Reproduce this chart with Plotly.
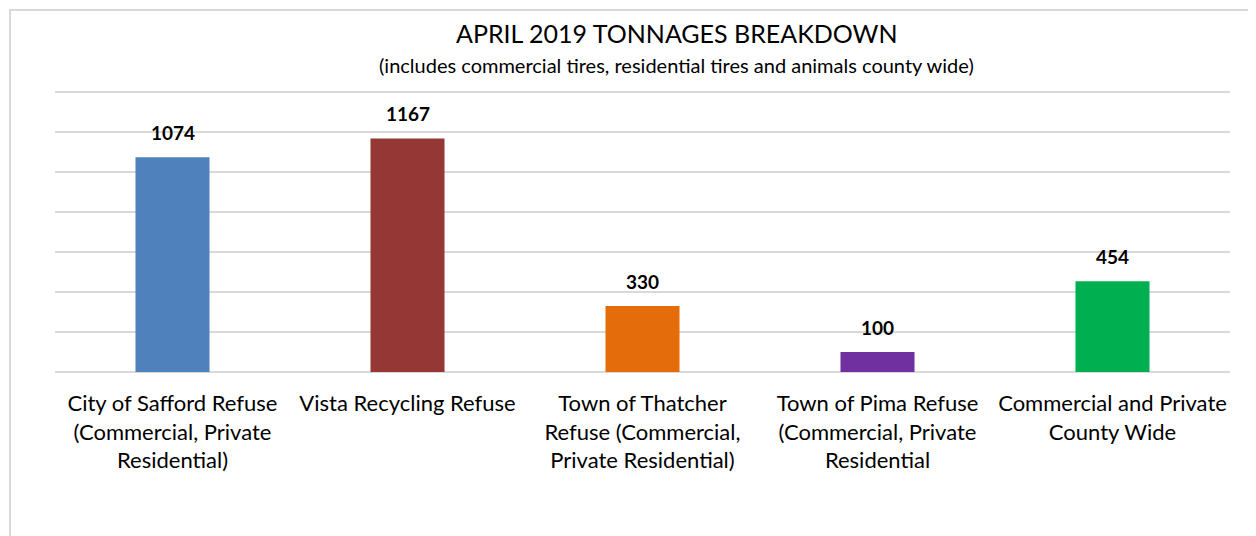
import plotly.graph_objects as go

categories = [
    "City of Safford Refuse<br>(Commercial, Private<br>Residential)",
    "Vista Recycling Refuse",
    "Town of Thatcher<br>Refuse (Commercial,<br>Private Residential)",
    "Town of Pima Refuse<br>(Commercial, Private<br>Residential",
    "Commercial and Private<br>County Wide",
]
values = [1074, 1167, 330, 100, 454]
colors = ["#4F81BD", "#953735", "#E46C0A", "#7030A0", "#00B050"]

title_text = "APRIL 2019 TONNAGES BREAKDOWN"
subtitle_text = "(includes commercial tires, residential tires and animals county wide)"

FONT = "Lato, 'Open Sans', sans-serif"

fig = go.Figure()
fig.add_trace(go.Bar(x=categories, y=values, marker=dict(color=colors, line=dict(width=0)),
                     hoverinfo="x+y"))

for c, v in zip(categories, values):
    fig.add_annotation(x=c, y=v, xref="x", yref="y", text=f"<b>{v}</b>", showarrow=False,
                       yshift=25, font=dict(family=FONT, size=19, color="#000000"))

fig.add_annotation(x=0.529, y=1.202, xref="paper", yref="paper", text=title_text, showarrow=False,
                   font=dict(family=FONT, size=25, color="#000000"), xanchor="center", yanchor="middle")
fig.add_annotation(x=0.529, y=1.089, xref="paper", yref="paper", text=subtitle_text, showarrow=False,
                   font=dict(family=FONT, size=20, color="#000000"), xanchor="center", yanchor="middle")

# chart border
fig.add_shape(type="rect", xref="paper", yref="paper", x0=-0.0383, x1=1.0196, y0=-1.0, y1=1.284,
              line=dict(color="#d9d9d9", width=2), layer="below")

fig.update_layout(
    width=1248, height=528,
    margin=dict(l=47, r=26, t=82, b=164),
    paper_bgcolor="white", plot_bgcolor="white",
    showlegend=False,
    bargap=0.685,
    font=dict(family=FONT, color="#000000"),
    xaxis=dict(showgrid=False, showline=False, ticks="", tickangle=0, automargin=False,
               ticklabelstandoff=16,
               tickfont=dict(family=FONT, size=22, color="#000000")),
    yaxis=dict(range=[0, 1410], dtick=200, showticklabels=False, showgrid=True,
               gridcolor="#d9d9d9", gridwidth=2, zeroline=True, zerolinecolor="#d9d9d9",
               zerolinewidth=2, showline=False, ticks=""),
)

fig.write_html("out.html")
